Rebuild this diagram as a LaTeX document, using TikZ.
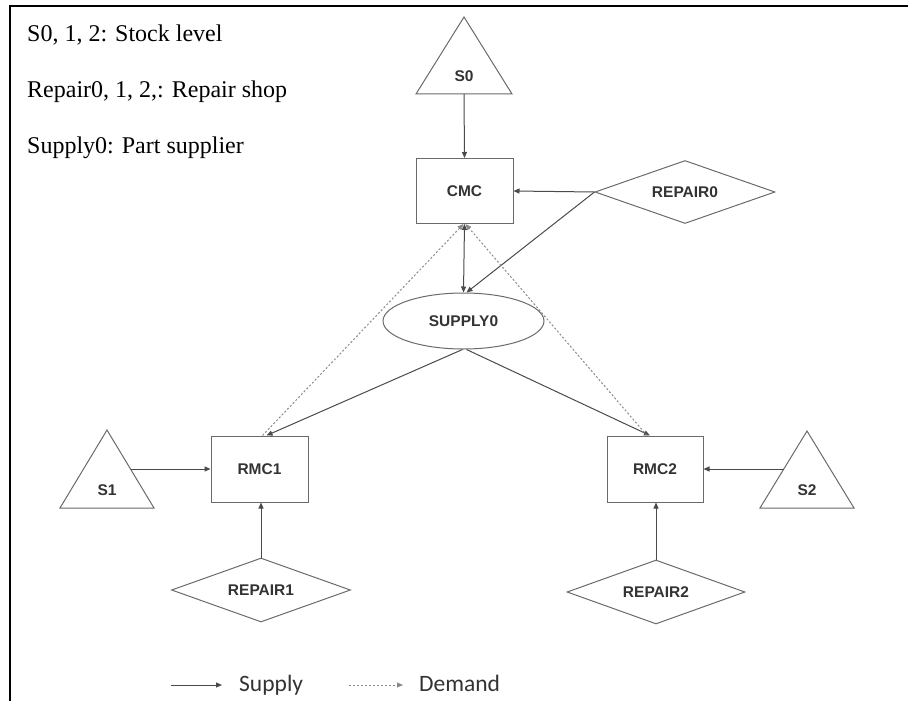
\documentclass[tikz,border=0pt]{standalone}
\usepackage{fontspec}
\setmainfont{Liberation Serif}
\newfontfamily\nodefont{Liberation Sans}
\newfontfamily\legfont{Carlito}
\usetikzlibrary{shapes.geometric,arrows.meta,calc}
\definecolor{lin}{HTML}{4A4A4A}
\definecolor{shp}{HTML}{6A6A6A}
\definecolor{dem}{HTML}{8A8A8A}
\definecolor{txt}{HTML}{333333}
\begin{document}
\begin{tikzpicture}[x=1pt,y=-1pt,
  lbl/.style={inner sep=0pt, text=txt, font=\nodefont\bfseries\fontsize{15.5}{18}\selectfont},
  box/.style={lbl, draw=shp, line width=1pt, rectangle, minimum width=97pt, minimum height=65pt},
  dia/.style={lbl, draw=shp, line width=1pt, diamond, aspect=2.85, minimum width=179pt, minimum height=63pt},
  ell/.style={lbl, draw=shp, line width=1pt, ellipse, minimum width=161pt, minimum height=56pt},
  tri/.style={draw=shp, line width=1pt, line join=miter},
  tip/.tip={Triangle[length=6pt,width=5pt]},
  sup/.style={draw=lin, line width=1pt, -tip},
  dem/.style={draw=dem, line width=1pt, dash pattern=on 2pt off 2pt, -tip},
  keytext/.style={inner sep=0pt, anchor=base west, font=\fontsize{24}{28}\selectfont},
  legtext/.style={inner sep=0pt, anchor=base west, text=txt, font=\legfont\fontsize{23.5}{28}\selectfont}
]
\useasboundingbox (0,0) rectangle (908,701);
% frame
\draw[line width=2pt] (10,701) -- (10,6) -- (909,6);

% key text
\node[keytext] (k1) at (27,42) {S0, 1, 2: Stock level};
\node[keytext] (k2) at (27,98) {Repair0, 1, 2,: Repair shop};
\node[keytext] (k3) at (27,153) {Supply0: Part supplier};

% triangles
\draw[tri] (464,17) -- (512,94) -- (416,94) -- cycle;
\node[lbl] (s0) at (464,76) {S0};
\coordinate (s0b) at (464,94);

\draw[tri] (107,430) -- (154,508) -- (60,508) -- cycle;
\node[lbl] (s1) at (107,490) {S1};
\coordinate (s1r) at (130.5,469);

\draw[tri] (807,431) -- (854,508) -- (760,508) -- cycle;
\node[lbl] (s2) at (807,490) {S2};
\coordinate (s2l) at (783.5,469);

% nodes
\node[box] (cmc) at (464.5,191) {CMC};
\node[box, minimum height=66pt] (rmc1) at (259.5,469) {RMC1};
\node[box, minimum width=96pt, minimum height=66pt] (rmc2) at (655,469) {RMC2};
\node[dia, minimum width=180pt] (rep0) at (685,192) {REPAIR0};
\node[dia, minimum height=64pt] (rep1) at (261,590) {REPAIR1};
\node[dia, minimum width=178pt, minimum height=64pt] (rep2) at (656,592) {REPAIR2};
\node[ell] (sup0) at (463.5,321) {SUPPLY0};

% connectors
\draw[sup] (s0b) -- (cmc.north);
\draw[sup] (rep0.west) -- (cmc.east);
\draw[sup] (rep0.west) -- ([xshift=3pt]sup0.north);
\draw[sup, tip-tip] (cmc.south) -- (sup0.north);
\draw[sup] ([xshift=-1pt]sup0.south) -- ([xshift=7pt]rmc1.north);
\draw[sup] ([xshift=3pt]sup0.south) -- ([xshift=-5pt]rmc2.north);
\draw[dem] ([xshift=3pt]rmc1.north) -- ([xshift=-1pt]cmc.south);
\draw[dem] ([xshift=-8pt]rmc2.north) -- ([xshift=1pt]cmc.south);
\draw[sup] (s1r) -- (rmc1.west);
\draw[sup] (rep1.north) -- (rep1.north |- rmc1.south);
\draw[sup] (s2l) -- (rmc2.east);
\draw[sup] (rep2.north) -- (rep2.north |- rmc2.south);

% legend
\coordinate (la) at (171,685);
\coordinate (lb) at (222,685);
\coordinate (lc) at (349,685);
\coordinate (ld) at (403,685);
\draw[sup] (la) -- (lb);
\draw[dem] (lc) -- (ld);
\node[legtext] (lsup) at (239,691) {Supply};
\node[legtext] (ldem) at (419,691) {Demand};
\end{tikzpicture}
\end{document}
